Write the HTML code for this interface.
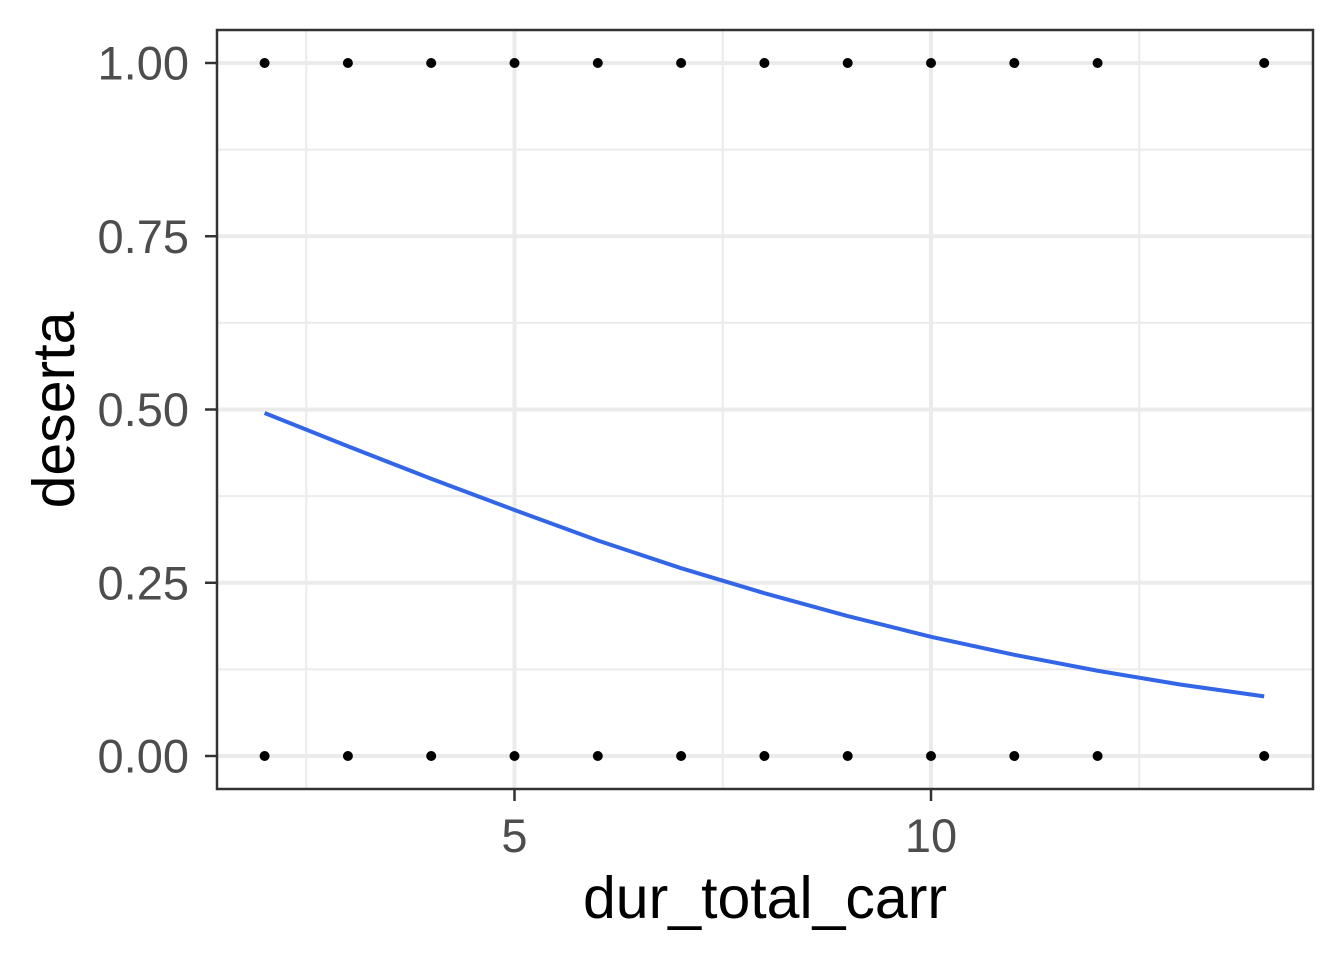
<!DOCTYPE html>
<html><head><meta charset="utf-8">
<style>
html,body{margin:0;padding:0;background:#fff;}
svg{display:block;font-family:"Liberation Sans",Arial,sans-serif;}
</style></head>
<body>
<svg id="chart" width="1344" height="960" xmlns="http://www.w3.org/2000/svg"></svg>
<script>
const pointX = [2,3,4,5,6,7,8,9,10,11,12,14];
const pointY0 = [0,0,0,0,0,0,0,0,0,0,0,0];
const pointY1 = [1,1,1,1,1,1,1,1,1,1,1,1];
const curveX = [2,3,4,5,6,7,8,9,10,11,12,13,14];
const curveY = [0.495,0.447,0.400,0.355,0.311,0.271,0.235,0.202,0.172,0.146,0.123,0.103,0.086];
const xTicks = [5,10];
const xMinor = [2.5,7.5,12.5];
const yTicks = [0,0.25,0.5,0.75,1];
const yTickLabels = ["0.00","0.25","0.50","0.75","1.00"];
const yMinor = [0.125,0.375,0.625,0.875];

const NS="http://www.w3.org/2000/svg";
const svg=document.getElementById('chart');
const L=217,R=1313,T=30,B=789;
const xs=v=>514.5+(v-5)*83.3;
const ys=v=>756-v*693;
function mk(tag,attrs,parent){const e=document.createElementNS(NS,tag);for(const k in attrs)e.setAttribute(k,attrs[k]);(parent||svg).appendChild(e);return e;}

const grid=mk('g',{});


xMinor.forEach(v=>{const l=mk('line',{x1:xs(v),x2:xs(v),y1:T,y2:B,stroke:'#ebebeb','stroke-width':2},grid);});
yMinor.forEach(v=>{const l=mk('line',{x1:L,x2:R,y1:ys(v),y2:ys(v),stroke:'#ebebeb','stroke-width':2},grid);});
xTicks.forEach(v=>{const l=mk('line',{x1:xs(v),x2:xs(v),y1:T,y2:B,stroke:'#ebebeb','stroke-width':4},grid);});
yTicks.forEach(v=>{const l=mk('line',{x1:L,x2:R,y1:ys(v),y2:ys(v),stroke:'#ebebeb','stroke-width':4},grid);});

const pts=mk('g',{fill:'#000'});


pointX.forEach((x,i)=>{
  const c0=mk('circle',{cx:xs(x),cy:ys(pointY0[i]),r:5},pts);
  
  
  const c1=mk('circle',{cx:xs(x),cy:ys(pointY1[i]),r:5},pts);
  
  
});

const line=mk('polyline',{points:curveX.map((x,i)=>xs(x)+','+ys(curveY[i])).join(' '),fill:'none',stroke:'#3366e6','stroke-width':4});



const frame=mk('rect',{x:L,y:T,width:R-L,height:B-T,fill:'none',stroke:'#333','stroke-width':2.5});



yTicks.forEach((v,i)=>{
  const t=mk('line',{x1:L-12,x2:L,y1:ys(v),y2:ys(v),stroke:'#333','stroke-width':2.5});
  
  
  const tx=mk('text',{x:L-28,y:ys(v)+16.5,'text-anchor':'end','font-size':47,fill:'#4d4d4d'});
  tx.textContent=yTickLabels[i];
  
  
});
xTicks.forEach(v=>{
  const t=mk('line',{x1:xs(v),x2:xs(v),y1:B,y2:B+12,stroke:'#333','stroke-width':2.5});
  
  
  const tx=mk('text',{x:xs(v),y:852,'text-anchor':'middle','font-size':47,fill:'#4d4d4d'});
  tx.textContent=String(v);
  
  
});
const xt=mk('text',{x:765,y:918,'text-anchor':'middle','font-size':59,fill:'#000'});
xt.textContent='dur_total_carr';


const yt=mk('text',{x:0,y:0,'text-anchor':'middle','font-size':59,fill:'#000',transform:'translate(74,410) rotate(-90)'});
yt.textContent='deserta';


</script>
</body></html>
